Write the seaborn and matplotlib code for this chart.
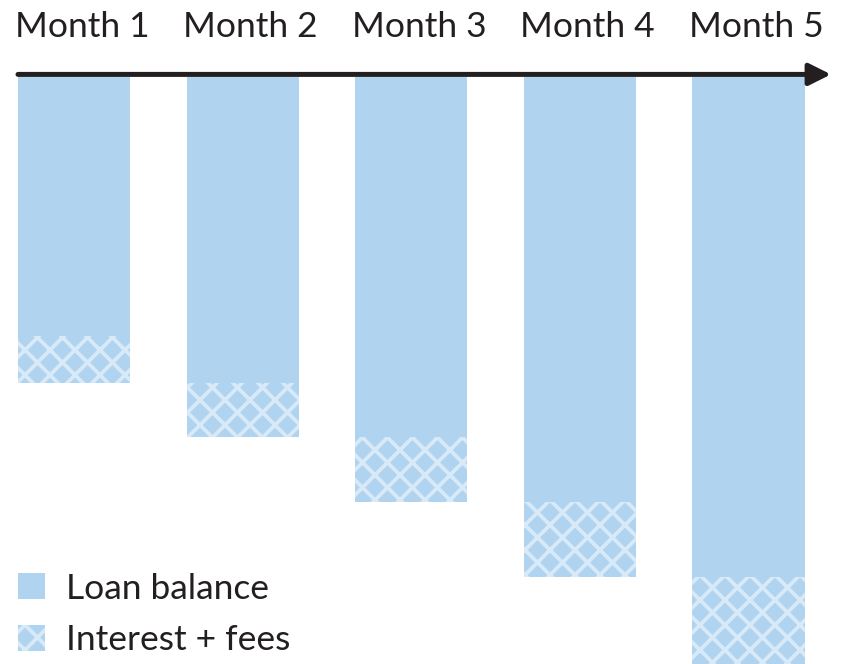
import pandas as pd
import matplotlib
matplotlib.use('Agg')
import matplotlib.pyplot as plt
import seaborn as sns
from matplotlib.patches import Patch

sns.set_theme(style='white')
plt.rcParams['font.family'] = ['Lato', 'DejaVu Sans']
plt.rcParams['hatch.linewidth'] = 1.8

months = ['Month 1', 'Month 2', 'Month 3', 'Month 4', 'Month 5']
loan_balance = [100, 118, 139, 164, 193]
interest_fees = [18, 21, 25, 29, 34]

BAR_COLOR = '#b0d3ef'
HATCH_COLOR = '#d8eaf8'
TEXT_COLOR = '#231f20'
BAR_WIDTH = 0.666


def main():
    df = pd.DataFrame({'month': months, 'loan': loan_balance, 'interest': interest_fees})
    df['total'] = df['loan'] + df['interest']

    fig = plt.figure(figsize=(846 / 150, 664 / 150), dpi=150)
    ax = fig.add_axes([18 / 846, 0, (831 - 18) / 846, (664 - 77) / 664])

    # hatched layer = full height, solid loan balance drawn over it
    sns.barplot(data=df, x='month', y='total', color=BAR_COLOR, saturation=1,
                width=BAR_WIDTH, hatch='xx', edgecolor=HATCH_COLOR, linewidth=0, ax=ax)
    sns.barplot(data=df, x='month', y='loan', color=BAR_COLOR, saturation=1,
                width=BAR_WIDTH, linewidth=0, ax=ax)

    ax.set_xlim(-BAR_WIDTH / 2, 4.49)
    ax.set_ylim(226.6, 0)
    ax.set_axis_off()

    # timeline arrow along the top
    ax.annotate('', xy=(1.0, -1.0), xytext=(0.0, -1.0),
                xycoords=('axes fraction', 'data'), textcoords=('axes fraction', 'data'),
                arrowprops=dict(arrowstyle='-|>', lw=2.4, color=TEXT_COLOR,
                                mutation_scale=22, shrinkA=0, shrinkB=0),
                annotation_clip=False)

    for i, m in enumerate(months):
        ax.text(i - BAR_WIDTH / 2 - 0.02, -15.5, m, ha='left', va='baseline',
                fontsize=17, color=TEXT_COLOR, clip_on=False)

    handles = [Patch(facecolor=BAR_COLOR, edgecolor='none', label='Loan balance'),
               Patch(facecolor=BAR_COLOR, edgecolor=HATCH_COLOR, hatch='xx', linewidth=0,
                     label='Interest + fees')]
    leg = fig.legend(handles=handles, loc='lower left', bbox_to_anchor=(18 / 846, 8 / 664),
                     frameon=False, fontsize=17, handlelength=0.76, handleheight=0.76,
                     handletextpad=0.6, labelspacing=0.55, borderpad=0, borderaxespad=0)
    for t in leg.get_texts():
        t.set_color(TEXT_COLOR)

    fig.savefig('out.png', dpi=150)
    plt.close(fig)


if __name__ == '__main__':
    main()
